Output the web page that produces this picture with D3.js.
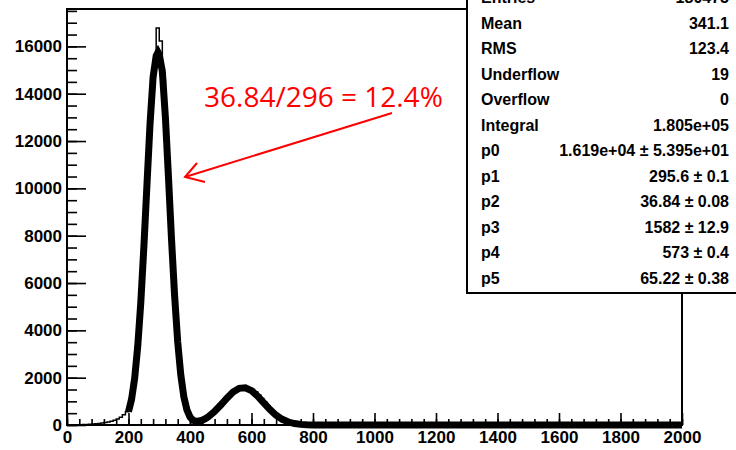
<!DOCTYPE html>
<html>
<head>
<meta charset="utf-8">
<script src="https://cdn.jsdelivr.net/npm/d3@7"></script>
<style>
  html, body { margin: 0; padding: 0; background: #fff; }
  svg { display: block; }
  .tick text { font-family: "Liberation Sans", Arial, sans-serif; font-weight: bold; }
</style>
</head>
<body>
<svg id="chart" width="736" height="450"></svg>
<script>
// histogram: bins of width 10 starting at 0 (counts)
const binWidth = 10;
const histCounts = [
  0, 2, 4, 8, 12, 18, 24, 32, 42, 55,
  68, 85, 105, 128, 160, 200, 255, 330, 430, 560,
  720, 1400, 2500, 4100, 6250, 8800, 11400, 13800, 15400, 16780,
  16230, 14600, 12200, 9450, 6800, 4550, 2850, 1650, 920, 480,
  270, 180, 160, 185, 240, 310, 400, 510, 640, 780,
  930, 1070, 1200, 1330, 1440, 1530, 1580, 1610, 1620, 1570,
  1500, 1400, 1270, 1120, 960, 800, 650, 520, 400, 300,
  220, 160, 110, 75, 50, 32, 20, 12, 8, 5
];

// fitted curve (thick line)
const fitX = [200, 210, 220, 230, 240, 250, 260, 270, 280, 290, 296, 300, 310, 320, 330, 340, 350, 360, 370, 380,
  390, 400, 410, 420, 430, 440, 450, 460, 480, 500, 520, 540, 560, 580, 600, 620, 640, 660, 680, 700,
  720, 740, 760, 780, 800, 900, 2000];
const fitY = [560, 1090, 1970, 3320, 5180, 7530, 10150, 12720, 14700, 15600, 15750, 15650, 14950, 13000, 10470, 7830, 5450, 3520, 2120, 1190,
  640, 340, 200, 155, 165, 205, 270, 355, 570, 845, 1135, 1390, 1550, 1575, 1450, 1220, 935, 650, 410, 240,
  125, 60, 26, 10, 4, 0, 0];

const xMajor = d3.range(0, 2001, 200);
const yMajor = d3.range(0, 16001, 2000);

const statLabels = ["Entries", "Mean", "RMS", "Underflow", "Overflow", "Integral", "p0", "p1", "p2", "p3", "p4", "p5"];
const statValues = ["180475", "341.1", "123.4", "19", "0", "1.805e+05",
  "1.619e+04 \u00b1 5.395e+01", "295.6 \u00b1 0.1", "36.84 \u00b1 0.08", "1582 \u00b1 12.9", "573 \u00b1 0.4", "65.22 \u00b1 0.38"];

const note = "36.84/296 = 12.4%";

(function () {
  const svg = d3.select("#chart");
  const left = 67, right = 682, top = 9, bottom = 425;

  const x = d3.scaleLinear().domain([0, 2000]).range([left, right]);
  const y = d3.scaleLinear().domain([0, 17580]).range([bottom, top]);

  // minor ticks
  svg.append("g")
    .attr("transform", `translate(0,${bottom})`)
    .call(d3.axisBottom(x).tickValues(d3.range(0, 2001, 40)).tickSizeInner(-6).tickSizeOuter(0).tickFormat(""))
    .call((g) => g.select(".domain").remove())
    .call((g) => g.selectAll("line").attr("stroke-width", 1.6));

  svg.append("g")
    .attr("transform", `translate(${left},0)`)
    .call(d3.axisLeft(y).tickValues(d3.range(0, 17501, 500)).tickSizeInner(-10).tickSizeOuter(0).tickFormat(""))
    .call((g) => g.select(".domain").remove())
    .call((g) => g.selectAll("line").attr("stroke-width", 1.6));

  // major ticks + labels
  svg.append("g")
    .attr("transform", `translate(0,${bottom})`)
    .call(d3.axisBottom(x).tickValues(xMajor).tickSizeInner(-12).tickSizeOuter(0).tickPadding(6).tickFormat(d3.format("d")))
    .call((g) => g.select(".domain").remove())
    .call((g) => g.selectAll("line").attr("stroke-width", 1.6))
    .call((g) => g.selectAll("text").attr("font-size", 17).attr("fill", "#000"));

  svg.append("g")
    .attr("transform", `translate(${left},0)`)
    .call(d3.axisLeft(y).tickValues(yMajor).tickSizeInner(-19).tickSizeOuter(0).tickPadding(5).tickFormat(d3.format("d")))
    .call((g) => g.select(".domain").remove())
    .call((g) => g.selectAll("line").attr("stroke-width", 1.6))
    .call((g) => g.selectAll("text").attr("font-size", 17).attr("fill", "#000"));

  // frame
  svg.append("rect")
    .attr("x", left).attr("y", top)
    .attr("width", right - left).attr("height", bottom - top)
    .attr("fill", "none").attr("stroke", "#000").attr("stroke-width", 2);

  // histogram (thin step line)
  const steps = histCounts.map((c, i) => [i * binWidth, c]);
  steps.push([histCounts.length * binWidth, histCounts[histCounts.length - 1]]);
  const stepLine = d3.line().x((d) => x(d[0])).y((d) => y(d[1])).curve(d3.curveStepAfter);
  svg.append("path")
    .datum(steps)
    .attr("d", stepLine)
    .attr("fill", "none").attr("stroke", "#000").attr("stroke-width", 1.5);

  // fit curve (thick)
  const fitLine = d3.line().x((d, i) => x(fitX[i])).y((d) => y(d));
  svg.append("path")
    .datum(fitY)
    .attr("d", fitLine)
    .attr("fill", "none").attr("stroke", "#000").attr("stroke-width", 7);

  // stats box (runs past the top and right edges, as in the picture)
  svg.append("rect")
    .attr("x", 467).attr("y", -10)
    .attr("width", 300).attr("height", 303)
    .attr("fill", "#fff").attr("stroke", "#000").attr("stroke-width", 2);

  const stats = svg.append("g")
    .attr("font-family", "'Liberation Sans', Arial, sans-serif")
    .attr("font-weight", "bold")
    .attr("font-size", 16)
    .attr("fill", "#000");

  statLabels.forEach((label, i) => {
    const by = 3 + i * 25.5;
    stats.append("text").attr("x", 481).attr("y", by).text(label);
    stats.append("text").attr("x", 729).attr("y", by).attr("text-anchor", "end").text(statValues[i]);
  });

  // annotation
  svg.append("text")
    .attr("x", 204).attr("y", 107)
    .attr("font-family", "'Open Sans', sans-serif")
    .attr("font-size", 28)
    .attr("fill", "#ff0000")
    .text(note);

  const ann = svg.append("g").attr("stroke", "#ff0000").attr("stroke-width", 2).attr("fill", "none");
  ann.append("line").attr("x1", 392).attr("y1", 113).attr("x2", 185).attr("y2", 177);
  ann.append("polyline").attr("points", "197,163 185,177 205,182");
})();
</script>
</body>
</html>
